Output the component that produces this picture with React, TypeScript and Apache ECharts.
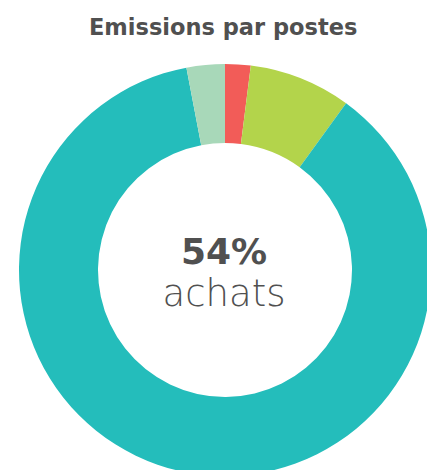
import React, { useEffect, useRef } from "react";
import * as echarts from "echarts";

const categories = ["Énergie", "Déplacements", "Achats", "Autres"];
const values = [2, 8, 87, 3];
const colors = ["#F25C58", "#B3D44B", "#24BDBB", "#A8D8B9"];
const titleText = "Emissions par postes";
const centerValue = "54%";
const centerLabel = "achats";

export default function App() {
  const ref = useRef<HTMLDivElement>(null);
  useEffect(() => {
    document.body.style.margin = "0";
    const chart = echarts.init(ref.current!, undefined, { renderer: "svg" });
    chart.setOption({
      animation: false,
      title: {
        text: titleText,
        left: 84,
        top: 10,
        textStyle: {
          fontFamily: "DejaVu Sans",
          fontWeight: "bold",
          fontSize: 22.5,
          color: "#505050",
        },
      },
      series: [
        {
          type: "pie",
          center: [225, 270],
          radius: [127, 206],
          startAngle: 90,
          clockwise: true,
          label: { show: false },
          labelLine: { show: false },
          emphasis: { disabled: true },
          itemStyle: { borderWidth: 0 },
          data: categories.map((c, i) => ({
            name: c,
            value: values[i],
            itemStyle: { color: colors[i] },
          })),
        },
      ],
      graphic: [
        {
          type: "text",
          x: 224,
          y: 251,
          style: {
            text: centerValue,
            fontFamily: "DejaVu Sans",
            fontWeight: "bold",
            fontSize: 36,
            fill: "#505050",
            textAlign: "center",
            textVerticalAlign: "middle",
          },
        },
        {
          type: "text",
          x: 224,
          y: 293,
          style: {
            text: centerLabel,
            fontFamily: "DejaVu Sans",
            fontWeight: 200,
            fontSize: 37,
            fill: "#505050",
            textAlign: "center",
            textVerticalAlign: "middle",
          },
        },
      ],
    });
    return () => chart.dispose();
  }, []);
  return <div ref={ref} style={{ width: 427, height: 470 }} />;
}
